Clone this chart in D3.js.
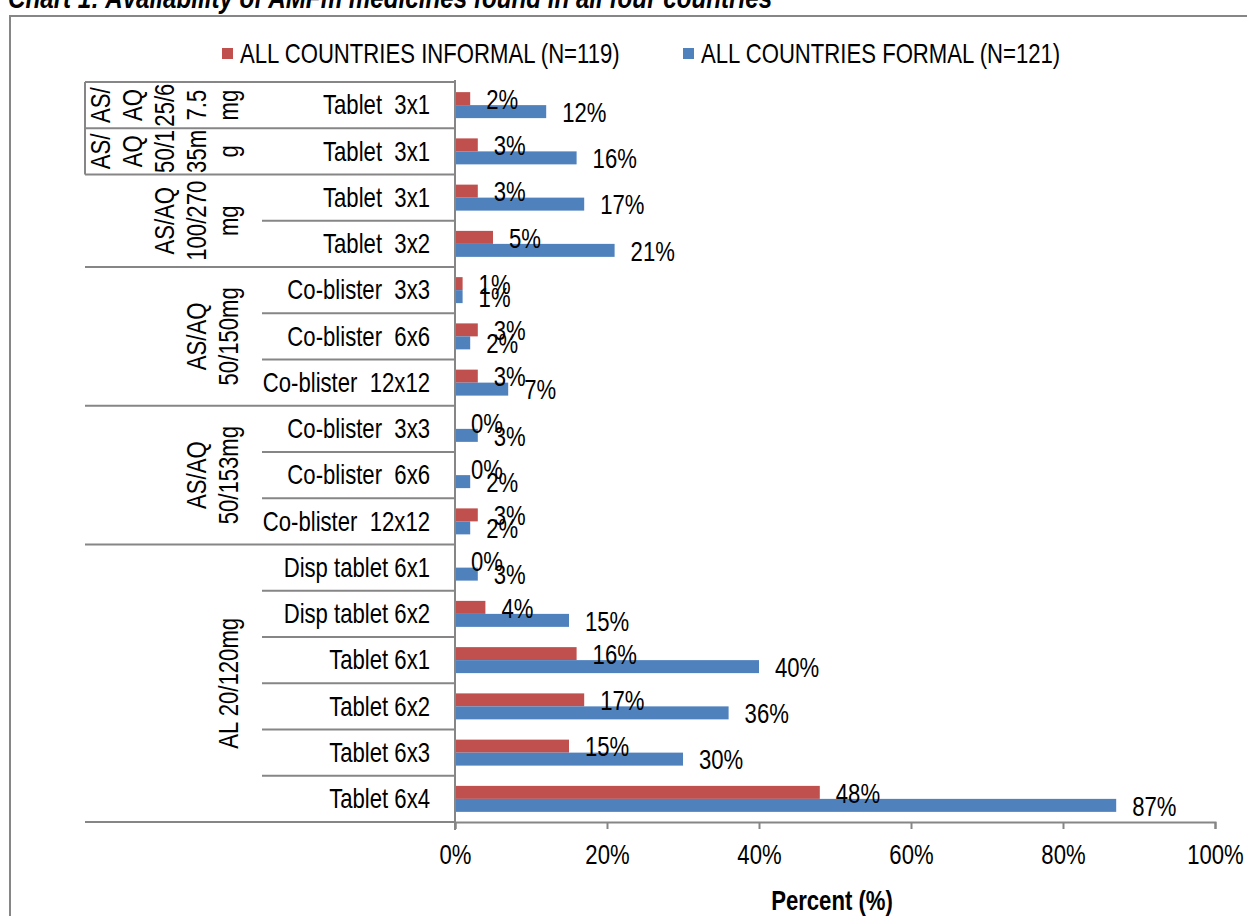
<!DOCTYPE html>
<html>
<head>
<meta charset="utf-8">
<script src="https://cdn.jsdelivr.net/npm/d3@7"></script>
<style>
    body { margin: 0; background: #fff; }
    svg text { font-family: "Liberation Sans", Arial, sans-serif; fill: #000; }
</style>
</head>
<body>
<div id="chart"></div>
<script>
// data, top row first
const categories = ['Tablet  3x1', 'Tablet  3x1', 'Tablet  3x1', 'Tablet  3x2',
    'Co-blister  3x3', 'Co-blister  6x6', 'Co-blister  12x12',
    'Co-blister  3x3', 'Co-blister  6x6', 'Co-blister  12x12',
    'Disp tablet 6x1', 'Disp tablet 6x2', 'Tablet 6x1', 'Tablet 6x2', 'Tablet 6x3', 'Tablet 6x4'];
const informal = [2, 3, 3, 5, 1, 3, 3, 0, 0, 3, 0, 4, 16, 17, 15, 48];
const formal = [12, 16, 17, 21, 1, 2, 7, 3, 2, 2, 3, 15, 40, 36, 30, 87];
const groupLines = [
    ['AS/', 'AQ', '25/6', '7.5', 'mg'],
    ['AS/', 'AQ', '50/1', '35m', 'g'],
    ['AS/AQ', '100/270', 'mg'],
    ['AS/AQ', '50/150mg'],
    ['AS/AQ', '50/153mg'],
    ['AL 20/120mg']
];
const groupSizes = [1, 1, 2, 3, 3, 6];
const seriesNames = ['ALL COUNTRIES INFORMAL (N=119)', 'ALL COUNTRIES FORMAL (N=121)'];
const xTicks = [0, 20, 40, 60, 80, 100];

const colors = { informal: '#C0504D', formal: '#4F81BD' };
const gridColor = '#868686';
const fontSize = 27;
// no narrow font installed, so squeeze Liberation Sans sideways
const squeeze = 'scale(0.82,1)';

const width = 1247, height = 916;
const plot = { left: 455, right: 1215, top: 82, bottom: 822 };
const groupX = 85, catX = 262;

const svg = d3.select('#chart').append('svg')
    .attr('width', width)
    .attr('height', height);

const at = (px, py) => 'translate(' + px + ',' + py + ') ' + squeeze;

// frame + title
svg.append('rect')
    .attr('x', 10).attr('y', 16)
    .attr('width', width + 20).attr('height', height + 20)
    .attr('fill', 'none')
    .attr('stroke', gridColor)
    .attr('stroke-width', 2);

svg.append('text')
    .attr('transform', at(8, 8))
    .attr('font-size', 29.5)
    .attr('font-weight', 'bold')
    .attr('font-style', 'italic')
    .text('Chart 1: Availability of AMFm medicines found in all four countries');

const x = d3.scaleLinear().domain([0, 100]).range([plot.left, plot.right]);
const y = d3.scaleBand().domain(d3.range(categories.length)).range([plot.top, plot.bottom]);
const ySub = d3.scaleBand().domain(['informal', 'formal'])
    .range([0, y.bandwidth()])
    .paddingInner(0)
    .paddingOuter(0.78);

const rows = categories.map((c, i) => ({ i, cat: c, informal: informal[i], formal: formal[i] }));

// row separator lines in the label area
const groupEnds = d3.cumsum(groupSizes);
const groupStarts = groupEnds.map((e, k) => e - groupSizes[k]);

svg.append('g').selectAll('line')
    .data(d3.range(categories.length + 1))
    .join('line')
    .attr('x1', i => (i === 0 || groupEnds.includes(i)) ? groupX : catX)
    .attr('x2', plot.left)
    .attr('y1', i => i < categories.length ? y(i) : plot.bottom)
    .attr('y2', i => i < categories.length ? y(i) : plot.bottom)
    .attr('stroke', gridColor)
    .attr('stroke-width', 2);

// left border only on the two single-row groups at the top
svg.append('line')
    .attr('x1', groupX).attr('x2', groupX)
    .attr('y1', y(0)).attr('y2', y(1) + y.bandwidth())
    .attr('stroke', gridColor)
    .attr('stroke-width', 2);

// category labels
svg.append('g').selectAll('text')
    .data(rows)
    .join('text')
    .attr('transform', d => at(430, y(d.i) + y.bandwidth() / 2))
    .attr('text-anchor', 'end')
    .attr('dominant-baseline', 'central')
    .attr('font-size', fontSize)
    .style('white-space', 'pre')
    .text(d => d.cat);

// group labels, rotated, last line kept at the same column
const lineStep = 32, lastLineX = 229;
groupLines.forEach((lines, k) => {
    const cy = (y(groupStarts[k]) + (groupEnds[k] < categories.length ? y(groupEnds[k]) : plot.bottom)) / 2;
    svg.append('g').selectAll('text')
        .data(lines)
        .join('text')
        .attr('transform', (d, j) => 'translate(' + (lastLineX - (lines.length - 1 - j) * lineStep) + ',' + cy + ') rotate(-90) ' + squeeze)
        .attr('text-anchor', 'middle')
        .attr('dominant-baseline', 'central')
        .attr('font-size', fontSize)
        .text(d => d);
});

// bars
const barG = svg.append('g');
['informal', 'formal'].forEach(key => {
    barG.selectAll('.bar-' + key)
        .data(rows)
        .join('rect')
        .attr('class', 'bar-' + key)
        .attr('x', x(0))
        .attr('y', d => y(d.i) + ySub(key))
        .attr('width', d => x(d[key]) - x(0))
        .attr('height', ySub.bandwidth())
        .attr('fill', colors[key]);
});

// axes
svg.append('line')
    .attr('x1', plot.left).attr('x2', plot.left)
    .attr('y1', plot.top - 2).attr('y2', plot.bottom + 8)
    .attr('stroke', gridColor)
    .attr('stroke-width', 2);

const xAxis = svg.append('g')
    .attr('transform', 'translate(0,' + plot.bottom + ')')
    .call(d3.axisBottom(x).tickValues(xTicks).tickSize(7).tickPadding(16).tickFormat(d => d + '%'));
xAxis.select('.domain').attr('stroke', gridColor).attr('stroke-width', 2);
xAxis.selectAll('.tick line').attr('stroke', gridColor).attr('stroke-width', 2);
xAxis.selectAll('.tick text')
    .attr('font-size', fontSize)
    .attr('transform', squeeze)
    .style('font-family', '"Liberation Sans", Arial, sans-serif');

svg.append('text')
    .attr('transform', at((plot.left + plot.right) / 2 - 3, 901))
    .attr('text-anchor', 'middle')
    .attr('dominant-baseline', 'central')
    .attr('font-size', fontSize)
    .attr('font-weight', 'bold')
    .text('Percent (%)');

// value labels, drawn over the bars
const labelG = svg.append('g');
['informal', 'formal'].forEach(key => {
    labelG.selectAll('.lab-' + key)
        .data(rows)
        .join('text')
        .attr('class', 'lab-' + key)
        .attr('transform', d => at(x(d[key]) + 16, y(d.i) + ySub(key) + ySub.bandwidth() / 2 + 1))
        .attr('dominant-baseline', 'central')
        .attr('font-size', fontSize)
        .text(d => d[key] + '%');
});

// legend
const legend = svg.append('g').attr('transform', 'translate(0,54)');
const legendX = [222, 683];
['informal', 'formal'].forEach((key, k) => {
    legend.append('rect')
        .attr('x', legendX[k]).attr('y', -6)
        .attr('width', 11).attr('height', 11)
        .attr('fill', colors[key]);
    legend.append('text')
        .attr('transform', at(legendX[k] + 18, 0))
        .attr('dominant-baseline', 'central')
        .attr('font-size', fontSize)
        .text(seriesNames[k]);
});
</script>
</body>
</html>
